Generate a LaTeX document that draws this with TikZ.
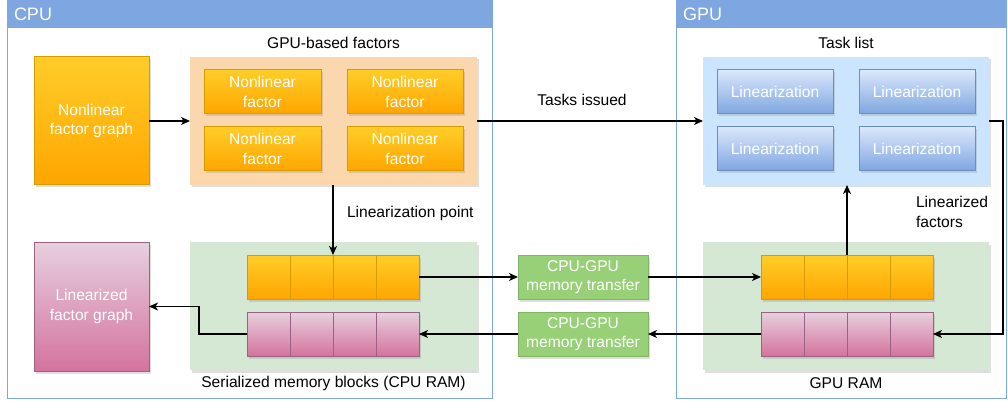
\documentclass[tikz,border=0pt]{standalone}
\usepackage{fontspec}
\setmainfont{Liberation Sans}
\usetikzlibrary{arrows.meta,shadows}
\definecolor{hdr}{HTML}{7EA6E0}
\definecolor{orT}{HTML}{FFCD28}
\definecolor{orB}{HTML}{FFA500}
\definecolor{orD}{HTML}{D79B00}
\definecolor{pkT}{HTML}{E6D0DE}
\definecolor{pkB}{HTML}{D5739D}
\definecolor{pkD}{HTML}{996185}
\definecolor{blT}{HTML}{DAE8FC}
\definecolor{blB}{HTML}{7EA6E0}
\definecolor{blD}{HTML}{6C8EBF}
\definecolor{grF}{HTML}{97D077}
\definecolor{grD}{HTML}{82B366}
\definecolor{peach}{HTML}{FAD7AC}
\definecolor{ltblue}{HTML}{CCE5FF}
\definecolor{ltgreen}{HTML}{D5E8D4}
\tikzset{
  base/.style={inner sep=0pt, outer sep=0pt, font=\fontsize{15.6}{19.5}\selectfont, align=center},
  shad/.style={drop shadow={shadow xshift=2pt, shadow yshift=-2.5pt, opacity=0.25}},
  orbox/.style={base, shad, draw=orD, line width=1pt, top color=orT, bottom color=orB, text=white},
  pkbox/.style={base, shad, draw=pkD, line width=1pt, top color=pkT, bottom color=pkB, text=white},
  blbox/.style={base, shad, draw=blD, line width=1pt, top color=blT, bottom color=blB, text=white},
  grbox/.style={base, shad, draw=grD, line width=1pt, fill=grF, text=white},
  grp/.style={base, shad, draw=none},
  cont/.style={base, draw=hdr, line width=1pt},
  hdrbar/.style={base, fill=hdr, draw=hdr, line width=1pt},
  lbl/.style={base, text=black},
  arr/.style={draw=black, line width=1.2pt, -{Stealth[length=9pt,width=8pt,inset=2.5pt]}},
}
\begin{document}
\begin{tikzpicture}[x=1pt,y=-1pt]
\useasboundingbox (0,0) rectangle (1008,403);
% containers
\node[cont, minimum width=485, minimum height=397] (cpu) at (249.5,199.5) {};
\node[hdrbar, minimum width=485, minimum height=27] (cpuh) at (249.5,14.5) {};
\node[base, text=white, anchor=west, font=\fontsize{18}{20}\selectfont] (cput) at (14,14.5) {CPU};
\node[cont, minimum width=330, minimum height=397] (gpu) at (841,199.5) {};
\node[hdrbar, minimum width=330, minimum height=27] (gpuh) at (841,14.5) {};
\node[base, text=white, anchor=west, font=\fontsize{18}{20}\selectfont] (gput) at (683,14.5) {GPU};
% CPU top
\node[orbox, minimum width=115, minimum height=128] (nfg) at (91.5,121) {Nonlinear\\factor graph};
\node[grp, fill=peach, minimum width=287, minimum height=128] (grpf) at (333.5,121) {};
\node[lbl] (grpfl) at (333.5,43) {GPU-based factors};
\node[orbox, minimum width=117, minimum height=44] (nf1) at (262.5,92) {Nonlinear\\factor};
\node[orbox, minimum width=116, minimum height=44] (nf2) at (405,92) {Nonlinear\\factor};
\node[orbox, minimum width=117, minimum height=44] (nf3) at (262.5,149) {Nonlinear\\factor};
\node[orbox, minimum width=116, minimum height=44] (nf4) at (405,149) {Nonlinear\\factor};
% GPU top
\node[grp, fill=ltblue, minimum width=286, minimum height=128] (tasks) at (846,121) {};
\node[lbl] (tasksl) at (846,43) {Task list};
\node[blbox, minimum width=116, minimum height=44] (lin1) at (775,92) {Linearization};
\node[blbox, minimum width=116, minimum height=44] (lin2) at (917,92) {Linearization};
\node[blbox, minimum width=116, minimum height=44] (lin3) at (775,149) {Linearization};
\node[blbox, minimum width=116, minimum height=44] (lin4) at (917,149) {Linearization};
% CPU bottom
\node[pkbox, minimum width=115, minimum height=129] (lfg) at (91.5,306.5) {Linearized\\factor graph};
\node[grp, fill=ltgreen, minimum width=287, minimum height=128] (cpuram) at (333.5,306) {};
\node[lbl] (cpuraml) at (333.5,383) {Serialized memory blocks (CPU RAM)};
\foreach \i/\x in {1/268.5,2/311.5,3/354.5,4/397.5}{
  \node[orbox, minimum width=43, minimum height=44] (co\i) at (\x,277) {};
  \node[pkbox, minimum width=43, minimum height=44] (cp\i) at (\x,334) {};
}
% GPU bottom
\node[grp, fill=ltgreen, minimum width=286, minimum height=128] (gpuram) at (846,306) {};
\node[lbl] (gpuraml) at (846,383) {GPU RAM};
\foreach \i/\x in {1/782.5,2/825.5,3/868.5,4/911.5}{
  \node[orbox, minimum width=43, minimum height=44] (go\i) at (\x,277) {};
  \node[pkbox, minimum width=43, minimum height=44] (gp\i) at (\x,334) {};
}
% transfers
\node[grbox, minimum width=130, minimum height=44] (tr1) at (583,277) {CPU-GPU\\memory transfer};
\node[grbox, minimum width=130, minimum height=44] (tr2) at (583,334) {CPU-GPU\\memory transfer};
% labels
\node[lbl] (tiss) at (582,100) {Tasks issued};
\node[lbl, anchor=west] (linpt) at (347,213) {Linearization point};
\node[lbl, anchor=west, align=left, font=\fontsize{15.6}{20}\selectfont] (linf) at (916,212) {Linearized\\factors};
% connectors
\draw[arr] (co3.north west |- grpf.south) -- (co3.north west);
\draw[arr] (nfg.east) -- (grpf.west);
\draw[arr] (grpf.east) -- (tasks.west);
\draw[arr] (co4.east) -- (tr1.west);
\draw[arr] (tr1.east) -- (go1.west);
\draw[arr] (gp1.west) -- (tr2.east);
\draw[arr] (tr2.west) -- (cp4.east);
\draw[arr] (cp1.west) -- ++(-48,0) |- (lfg.east);
\draw[arr] (go3.north west) -- (go3.north west |- tasks.south);
\draw[arr] (tasks.east) -- ++(14,0) |- (gp4.east);
\end{tikzpicture}
\end{document}
